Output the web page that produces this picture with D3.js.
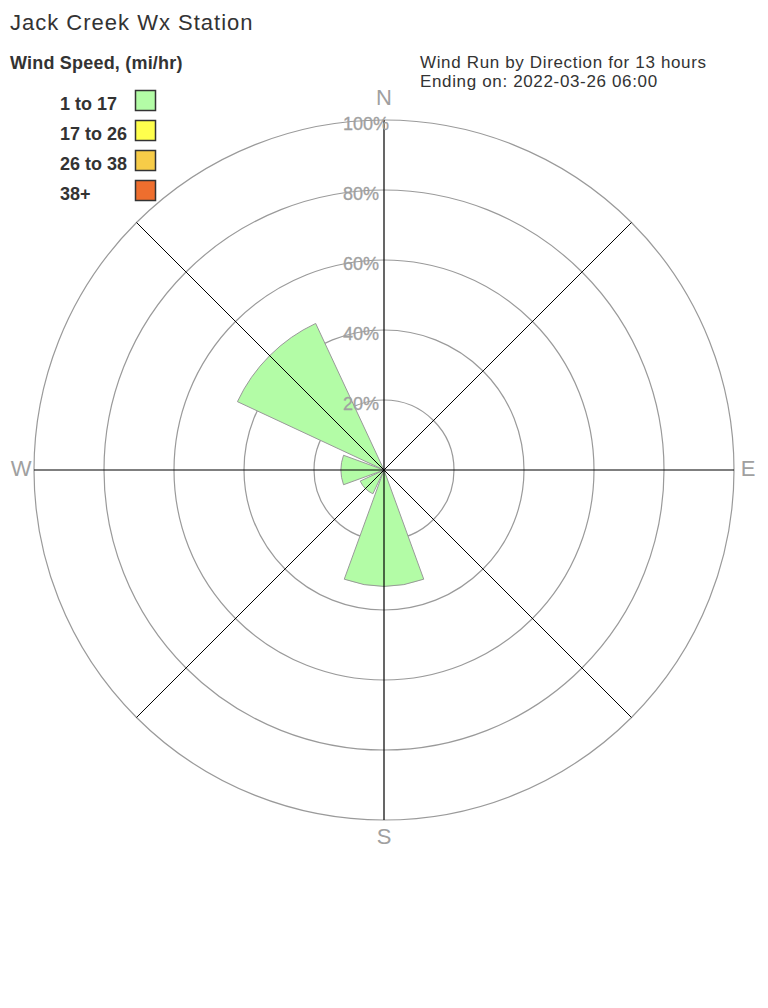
<!DOCTYPE html>
<html>
<head>
<meta charset="utf-8">
<script src="https://cdn.jsdelivr.net/npm/d3@7"></script>
<style>
  html, body { margin: 0; padding: 0; background: #fff; }
  svg { display: block; font-family: "Liberation Sans", Arial, sans-serif; }
</style>
</head>
<body>
<svg id="chart" width="768" height="1008"></svg>
<script>
// ---- data ----
const directions = ["N", "NE", "E", "SE", "S", "SW", "W", "NW"];
const directionAngles = [0, 45, 90, 135, 180, 225, 270, 315];
const speedBins = ["1 to 17", "17 to 26", "26 to 38", "38+"];
const binColors = ["#b3fca6", "#ffff4d", "#f7cc48", "#ee6e2e"];
// percent of wind run per direction, per speed bin
const bin1Values = [0, 0, 0, 0, 33.2, 7.5, 12.3, 46.2];
const bin2Values = [0, 0, 0, 0, 0, 0, 0, 0];
const bin3Values = [0, 0, 0, 0, 0, 0, 0, 0];
const bin4Values = [0, 0, 0, 0, 0, 0, 0, 0];
const ringTicks = [20, 40, 60, 80, 100];
const compassLabels = ["N", "E", "S", "W"];

const title = "Jack Creek Wx Station";
const legendTitle = "Wind Speed, (mi/hr)";
const infoLines = ["Wind Run by Direction for 13 hours", "Ending on: 2022-03-26 06:00"];

// ---- layout ----
const svg = d3.select("#chart");
const cx = 384, cy = 470, R = 350;
const r = d3.scaleLinear().domain([0, 100]).range([0, R]);
const toRad = d => d * Math.PI / 180;
const halfWidth = 20; // degrees

const g = svg.append("g").attr("transform", `translate(${cx},${cy})`);

// rings
g.selectAll("circle.ring").data(ringTicks).enter().append("circle")
  .attr("class", "ring")
  .attr("r", d => r(d))
  .attr("fill", "none")
  .attr("stroke", "#9a9a9a")
  .attr("stroke-width", 1.2);

// stacked wedges
const series = [bin1Values, bin2Values, bin3Values, bin4Values];
const arc = d3.arc();
const stacked = [];
directions.forEach((dir, i) => {
  let base = 0;
  series.forEach((vals, s) => {
    const v = vals[i];
    if (v > 0) {
      stacked.push({ angle: directionAngles[i], inner: base, outer: base + v, color: binColors[s] });
    }
    base += v;
  });
});
g.selectAll("path.wedge").data(stacked).enter().append("path")
  .attr("class", "wedge")
  .attr("d", d => arc({
    innerRadius: r(d.inner),
    outerRadius: r(d.outer),
    startAngle: toRad(d.angle - halfWidth),
    endAngle: toRad(d.angle + halfWidth)
  }))
  .attr("fill", d => d.color)
  .attr("stroke", "#999")
  .attr("stroke-width", 1);

// spokes
g.selectAll("line.spoke").data(directionAngles).enter().append("line")
  .attr("class", "spoke")
  .attr("x1", 0).attr("y1", 0)
  .attr("x2", d => R * Math.sin(toRad(d)))
  .attr("y2", d => -R * Math.cos(toRad(d)))
  .attr("stroke", "#000")
  .attr("stroke-width", d => d % 90 === 0 ? 1.2 : 1);

// ring labels
g.selectAll("text.ringlabel").data(ringTicks).enter().append("text")
  .attr("class", "ringlabel")
  .attr("x", -41)
  .attr("y", d => -r(d) + 10)
  .attr("fill", "#a0a0a0")
  .attr("font-size", 18)
  .attr("stroke", "#a0a0a0")
  .attr("stroke-width", 0.3)
  .text(d => d + "%");

// compass labels
const compassPos = {
  N: { x: 0, y: -R - 15, anchor: "middle" },
  S: { x: 0, y: R + 24, anchor: "middle" },
  W: { x: -R - 13, y: 6, anchor: "middle" },
  E: { x: R + 14, y: 6, anchor: "middle" }
};
g.selectAll("text.compass").data(compassLabels).enter().append("text")
  .attr("class", "compass")
  .attr("x", d => compassPos[d].x)
  .attr("y", d => compassPos[d].y)
  .attr("text-anchor", d => compassPos[d].anchor)
  .attr("fill", "#a0a0a0")
  .attr("font-size", 22)
  .text(d => d);

// title
svg.append("text")
  .attr("x", 10).attr("y", 30)
  .attr("fill", "#333")
  .attr("font-size", 22)
  .attr("letter-spacing", 1)
  .text(title);

// legend
svg.append("text")
  .attr("x", 10).attr("y", 69)
  .attr("fill", "#333")
  .attr("font-size", 18)
  .attr("letter-spacing", 0.2)
  .attr("font-weight", "bold")
  .text(legendTitle);

const legend = svg.append("g");
const items = legend.selectAll("g.item").data(speedBins).enter().append("g")
  .attr("class", "item")
  .attr("transform", (d, i) => `translate(0, ${i * 30})`);
items.append("text")
  .attr("x", 60).attr("y", 110)
  .attr("fill", "#333")
  .attr("font-size", 18)
  .attr("font-weight", "bold")
  .text(d => d);
items.append("rect")
  .attr("x", 135.5).attr("y", 90.5)
  .attr("width", 20).attr("height", 20)
  .attr("fill", (d, i) => binColors[i])
  .attr("stroke", "#333")
  .attr("stroke-width", 1.5);

// info text
svg.selectAll("text.info").data(infoLines).enter().append("text")
  .attr("class", "info")
  .attr("x", 420)
  .attr("y", (d, i) => 68 + i * 18.5)
  .attr("fill", "#333")
  .attr("font-size", 17)
  .attr("letter-spacing", 0.65)
  .text(d => d);
</script>
</body>
</html>
